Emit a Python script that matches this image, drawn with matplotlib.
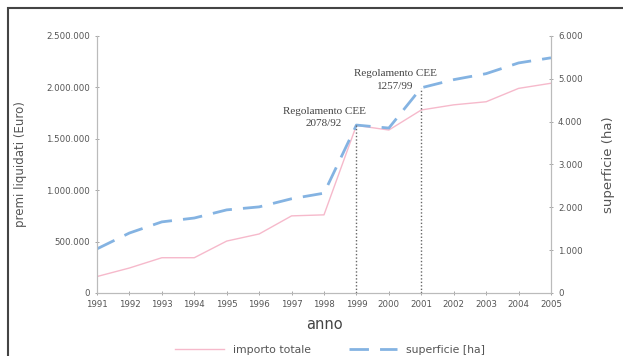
import matplotlib.pyplot as plt
from matplotlib.ticker import FuncFormatter
from matplotlib.patches import Rectangle

# data
anni = [1991, 1992, 1993, 1994, 1995, 1996, 1997, 1998,
        1999, 2000, 2001, 2002, 2003, 2004, 2005]
importo_totale = [160000, 243000, 343000, 343000, 505000, 574000, 750000, 760000,
                  1630000, 1585000, 1780000, 1830000, 1860000, 1990000, 2040000]
superficie = [1030, 1400, 1660, 1750, 1940, 2010, 2200, 2330,
              3920, 3850, 4790, 4980, 5120, 5370, 5490]
regolamenti = [(1999, "Regolamento CEE\n2078/92", 1998.0),
               (2001, "Regolamento CEE\n1257/99", 2000.2)]

grey = '#999999'
text_col = '#555555'


def punti(x, pos):
    return f"{int(x):,}".replace(",", ".")


fig = plt.figure(figsize=(6.23, 3.56), dpi=100)
ax = fig.add_axes([0.1557, 0.177, 0.7287, 0.722])
ax2 = ax.twinx()

l1, = ax.plot(anni, importo_totale, color='#f6b9cb', lw=1.0, label='importo totale')
l2, = ax2.plot(anni, superficie, color='#84b3e2', lw=2.0, dashes=(7, 4),
               label='superficie [ha]')

# vertical dotted markers for the regulations
for anno, testo, xt in regolamenti:
    i = anni.index(anno)
    ax2.vlines(anno, 0, superficie[i], colors='#666666', linestyles=(0, (1, 1.5)), lw=1.0)
    ax2.text(xt, superficie[i] - 80, testo, ha='center', va='bottom',
             fontsize=8, family='Liberation Serif', color='#444444', linespacing=1.55)

ax.set_xlim(1991, 2005)
ax.set_ylim(0, 2500000)
ax2.set_ylim(0, 6000)
ax.set_xticks(anni)
ax.set_yticks(range(0, 2500001, 500000))
ax2.set_yticks(range(0, 6001, 1000))
ax.yaxis.set_major_formatter(FuncFormatter(punti))
ax2.yaxis.set_major_formatter(FuncFormatter(punti))

for a in (ax, ax2):
    a.spines['top'].set_visible(False)
    for s in ('left', 'right', 'bottom'):
        a.spines[s].set_color('#bbbbbb')
        a.spines[s].set_linewidth(0.8)
    a.tick_params(labelsize=6.2, labelcolor=text_col, color=grey, length=3, width=0.6,
                  direction='inout')

ax.set_ylabel('premi liquidati (Euro)', fontsize=8.5, color=text_col, labelpad=14)
ax2.set_ylabel('superficie (ha)', fontsize=9.5, color=text_col, labelpad=14)
ax.set_xlabel('anno', fontsize=10.5, color='#444444', labelpad=6)

fig.legend(handles=[l1, l2], loc='lower center', bbox_to_anchor=(0.53, -0.025), ncol=2,
           frameon=False, fontsize=7.8, handlelength=4.5, columnspacing=3.5,
           labelcolor=text_col)

# outer frame like the scanned original
fig.patches.append(Rectangle((8 / 623, -0.01), 1.0, 1 - 8 / 356 + 0.01,
                             transform=fig.transFigure, fill=False,
                             edgecolor='#444444', lw=1.5))

fig.savefig('out.png', dpi=100)
